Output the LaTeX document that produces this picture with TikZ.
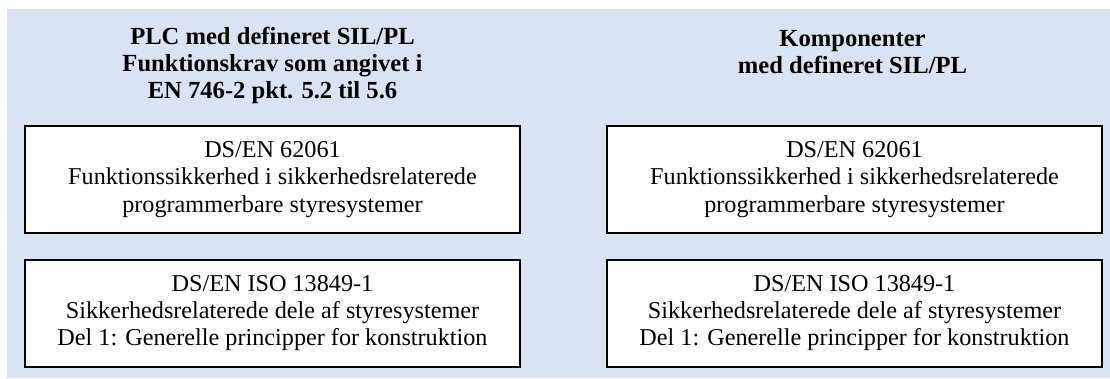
\documentclass[tikz,border=0pt]{standalone}
\usepackage{fontspec}
\setmainfont{Liberation Serif}
\usetikzlibrary{positioning}
\definecolor{panelblue}{HTML}{DAE3F3}

\begin{document}
\begin{tikzpicture}[x=1pt,y=-1pt,
    normbox/.style={draw,line width=2pt,fill=white,minimum width=495pt,
      minimum height=107pt,inner sep=0pt,align=center,
      font=\fontsize{24.2}{27.2}\selectfont},
    heading/.style={align=center,font=\fontsize{24.6}{27}\selectfont\bfseries}]
  \useasboundingbox (0,0) rectangle (1110,378);
  \fill[panelblue] (7,9) rectangle (1110,378);
  % venstre kolonne
  \node[heading] (plchead) at (272.5,65) {PLC med defineret SIL/PL\\Funktionskrav som angivet i\\EN 746-2 pkt. 5.2 til 5.6};
  \node[normbox] (plciec) at (272.5,179.5) {DS/EN 62061\\Funktionssikkerhed i sikkerhedsrelaterede\\programmerbare styresystemer};
  \node[normbox,below=24.5pt of plciec] (plciso) {DS/EN ISO 13849-1\\Sikkerhedsrelaterede dele af styresystemer\\Del 1: Generelle principper for konstruktion};
  % hoejre kolonne
  \node[normbox,right=85pt of plciec] (kompiec) {DS/EN 62061\\Funktionssikkerhed i sikkerhedsrelaterede\\programmerbare styresystemer};
  \node[normbox,below=24.5pt of kompiec] (kompiso) {DS/EN ISO 13849-1\\Sikkerhedsrelaterede dele af styresystemer\\Del 1: Generelle principper for konstruktion};
  \node[heading] (komphead) at (852.5,52) {Komponenter\\med defineret SIL/PL};
\end{tikzpicture}
\end{document}
